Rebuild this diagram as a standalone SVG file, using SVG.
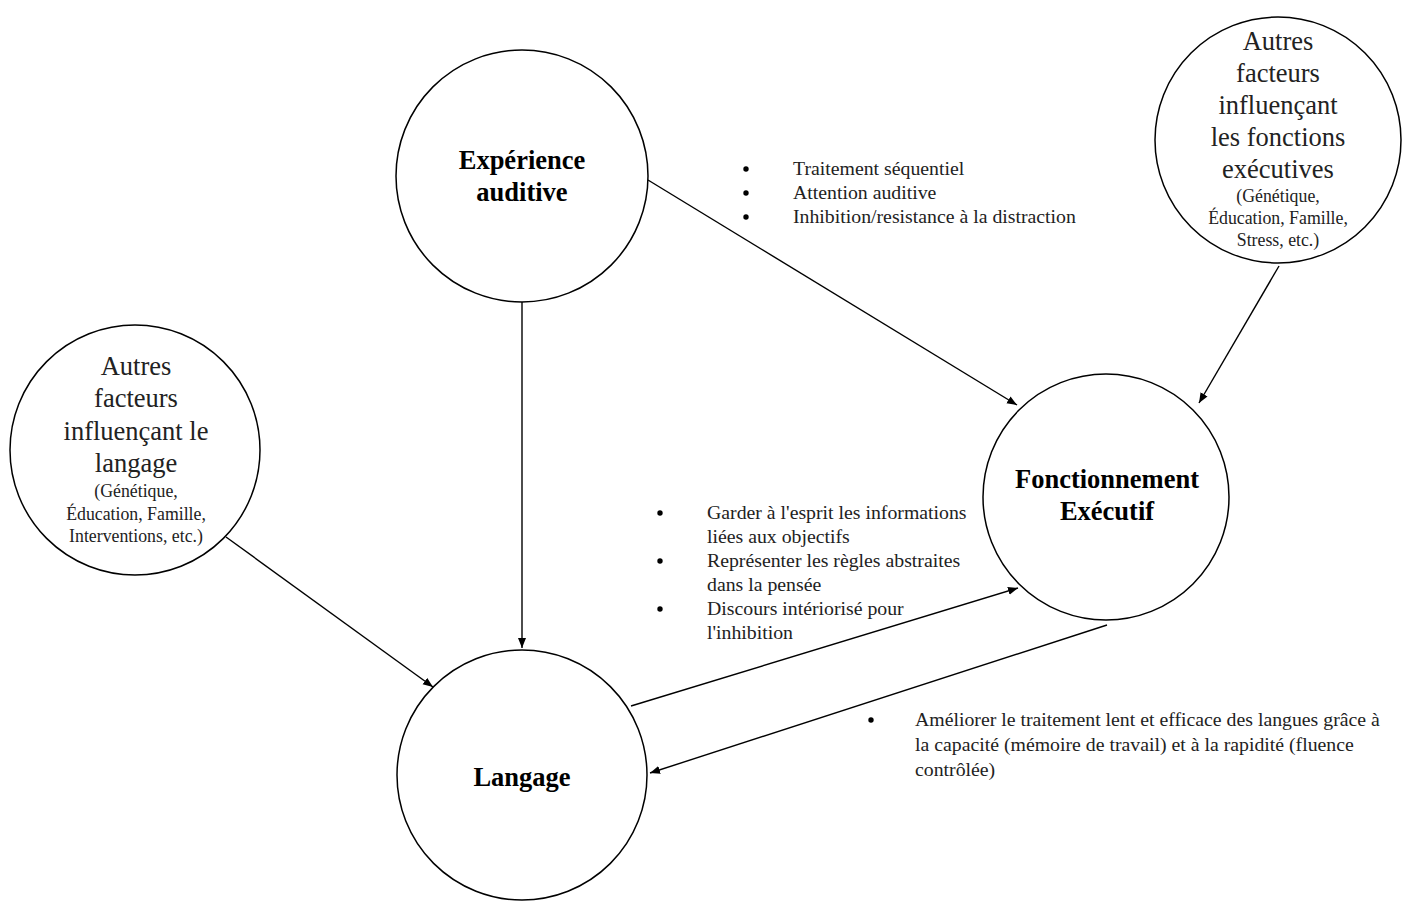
<svg xmlns="http://www.w3.org/2000/svg" width="1406" height="904" viewBox="0 0 1406 904">
<defs>
<marker id="ah" viewBox="0 0 10 10" refX="10" refY="5" markerWidth="10" markerHeight="10" markerUnits="userSpaceOnUse" orient="auto">
<path d="M0,1 L10,5 L0,9 Z" fill="#000"/>
</marker>
<style>
.n{fill:#fff;stroke:#000;stroke-width:1.5}
.c{stroke:#000;stroke-width:1.4;fill:none;marker-end:url(#ah)}
text{font-family:"Liberation Serif","Times New Roman",serif;fill:#000}
.b{font-weight:bold;font-size:26.5px;text-anchor:middle}
.m{font-size:26.5px;text-anchor:middle;fill:#222}
.s{font-size:17.8px;text-anchor:middle;fill:#222}
.t{font-size:19.8px;fill:#222}
</style>
</defs>
<rect width="1406" height="904" fill="#fff"/>
<g id="connectors">
<line class="c" x1="648" y1="180" x2="1017" y2="405"/>
<line class="c" x1="522" y1="302" x2="522" y2="648"/>
<line class="c" x1="1279" y1="266" x2="1199" y2="403"/>
<line class="c" x1="226" y1="537" x2="433" y2="687"/>
<line class="c" x1="631" y1="706" x2="1018" y2="588"/>
<line class="c" x1="1107" y1="625" x2="650" y2="773"/>
</g>
<g id="experience">
<circle class="n" cx="522" cy="176" r="126"/>
<text class="b" x="522" y="169">Expérience</text>
<text class="b" x="522" y="201">auditive</text>
</g>
<g id="langage">
<circle class="n" cx="522" cy="775" r="125"/>
<text class="b" x="522" y="786">Langage</text>
</g>
<g id="fonctionnement">
<circle class="n" cx="1106" cy="497" r="123"/>
<text class="b" x="1107" y="488">Fonctionnement</text>
<text class="b" x="1107" y="520">Exécutif</text>
</g>
<g id="autres-fe">
<circle class="n" cx="1278" cy="140" r="123"/>
<text class="m" x="1278" y="50">Autres</text>
<text class="m" x="1278" y="82">facteurs</text>
<text class="m" x="1278" y="114">influençant</text>
<text class="m" x="1278" y="146">les fonctions</text>
<text class="m" x="1278" y="178">exécutives</text>
<text class="s" x="1278" y="202">(Génétique,</text>
<text class="s" x="1278" y="224">Éducation, Famille,</text>
<text class="s" x="1278" y="246">Stress, etc.)</text>
</g>
<g id="autres-langage">
<circle class="n" cx="135" cy="450" r="125"/>
<text class="m" x="136" y="375">Autres</text>
<text class="m" x="136" y="407">facteurs</text>
<text class="m" x="136" y="440">influençant le</text>
<text class="m" x="136" y="472">langage</text>
<text class="s" x="136" y="497">(Génétique,</text>
<text class="s" x="136" y="520">Éducation, Famille,</text>
<text class="s" x="136" y="542">Interventions, etc.)</text>
</g>
<g id="label-exp-fe">
<circle cx="746" cy="169" r="2.7"/>
<circle cx="746" cy="193" r="2.7"/>
<circle cx="746" cy="217" r="2.7"/>
<text class="t" x="793" y="175">Traitement séquentiel</text>
<text class="t" x="793" y="199">Attention auditive</text>
<text class="t" x="793" y="223">Inhibition/resistance à la distraction</text>
</g>
<g id="label-lang-fe">
<circle cx="660" cy="513" r="2.7"/>
<circle cx="660" cy="561" r="2.7"/>
<circle cx="660" cy="609" r="2.7"/>
<text class="t" x="707" y="519">Garder à l'esprit les informations</text>
<text class="t" x="707" y="543">liées aux objectifs</text>
<text class="t" x="707" y="567">Représenter les règles abstraites</text>
<text class="t" x="707" y="591">dans la pensée</text>
<text class="t" x="707" y="615">Discours intériorisé pour</text>
<text class="t" x="707" y="639">l'inhibition</text>
</g>
<g id="label-fe-lang">
<circle cx="871" cy="720" r="2.7"/>
<text class="t" x="915" y="726">Améliorer le traitement lent et efficace des langues grâce à</text>
<text class="t" x="915" y="751">la capacité (mémoire de travail) et à la rapidité (fluence</text>
<text class="t" x="915" y="776">contrôlée)</text>
</g>
</svg>
